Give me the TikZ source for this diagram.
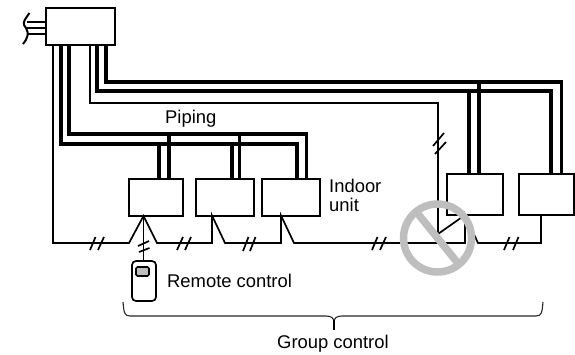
\documentclass[tikz,border=0pt]{standalone}
\usepackage{fontspec}
\setmainfont{Liberation Sans}
\definecolor{ringgray}{RGB}{190,190,190}
\tikzset{
  unitbox/.style={draw,line width=2pt,inner sep=0pt,outer sep=0pt,minimum height=37pt},
  pipe/.style={line width=3.8pt,line join=miter},
  wire/.style={line width=1.7pt,line join=miter},
  tick/.style={line width=1.7pt},
  brace/.style={line width=1.1pt,black!85},
  label/.style={anchor=base west,inner sep=0pt,font=\fontsize{18.4}{20}\selectfont}
}
\begin{document}
\begin{tikzpicture}[x=1pt,y=-1pt]
  \useasboundingbox (0,0) rectangle (575,354);

  \node[unitbox,minimum width=69pt,minimum height=37pt] (top) at (80.5,26.5){};
  \node[unitbox,minimum width=54pt] (unitA) at (156,197.5){};
  \node[unitbox,minimum width=58pt] (unitB) at (224.5,197){};
  \node[unitbox,minimum width=58pt] (unitC) at (291,197){};
  \node[unitbox,minimum width=56pt,minimum height=41pt] (unitD) at (475,194.5){};
  \node[unitbox,minimum width=55pt,minimum height=41pt] (unitE) at (546.5,194.5){};
  \node[draw,line width=1.7pt,rounded corners=4pt,minimum width=24pt,minimum height=40pt,inner sep=0pt,outer sep=0pt] (remote) at (144,281){};
  \node[draw,fill=ringgray,line width=1.7pt,rounded corners=1.5pt,minimum width=13pt,minimum height=9pt,inner sep=0pt] (screen) at (142.5,271.5){};

  \node[label] (piping) at (165,123){Piping};
  \node[label] (indoor) at (329,192){Indoor};
  \node[label] (indoorb) at (329,211){unit};
  \node[label] (remotetext) at (167,287){Remote control};
  \node[label] (group) at (277,348){Group control};

  % mains at the left of the top box
  \foreach \ypos in {22,28,34}
    \draw[wire] (top.west |- 0,\ypos) -- (27,\ypos);
  \draw[line width=2pt] (29.5,13) .. controls (22,23) and (23,24) .. (26,28) .. controls (29,33) and (28,38) .. (23,44);

  % piping, two loops
  \coordinate (pipeA) at (61,144);
  \coordinate (pipeB) at (297,144);
  \coordinate (pipeC) at (69,134);
  \coordinate (pipeD) at (306.5,134);
  \coordinate (pipeE) at (97,91);
  \coordinate (pipeF) at (551,91);
  \coordinate (pipeG) at (106,82);
  \coordinate (pipeH) at (561.5,82);
  \draw[pipe] (top.south -| pipeA) -- (pipeA) -- (pipeB) -- (unitC.north -| pipeB);
  \draw[pipe] (top.south -| pipeC) -- (pipeC) -- (pipeD) -- (unitC.north -| pipeD);
  \draw[pipe] (top.south -| pipeE) -- (pipeE) -- (pipeF) -- (unitE.north -| pipeF);
  \draw[pipe] (top.south -| pipeG) -- (pipeG) -- (pipeH) -- (unitE.north -| pipeH);

  \coordinate (branchA) at (159,144);
  \coordinate (branchB) at (169,134);
  \coordinate (branchC) at (232,144);
  \coordinate (branchD) at (239.5,134);
  \coordinate (branchE) at (469,91);
  \coordinate (branchF) at (479,82);
  \draw[pipe] (branchA) -- (unitA.north -| branchA);
  \draw[pipe] (branchB) -- (unitA.north -| branchB);
  \draw[pipe] (branchC) -- (unitB.north -| branchC);
  \draw[pipe] (branchD) -- (unitB.north -| branchD);
  \draw[pipe] (branchE) -- (unitD.north -| branchE);
  \draw[pipe] (branchF) -- (unitD.north -| branchF);

  % control wiring
  \coordinate (tapA) at (143.5,216);
  \coordinate (tapB) at (212,215.5);
  \coordinate (tapC) at (281,215.5);
  \coordinate (tapD) at (465,215);
  \coordinate (tapE) at (541,215);
  \coordinate (wrong) at (438,234);
  \coordinate (wrongtop) at (438,103);
  \coordinate (wrongleft) at (90,103);
  \coordinate (wireA) at (53,243);
  \coordinate (wireB) at (129,243);
  \coordinate (wireC) at (157,243);
  \coordinate (wireD) at (225,243);
  \coordinate (wireE) at (294,243);
  \coordinate (wireF) at (478,243);

  \draw[wire] (top.south -| wireA) -- (wireA) -- (wireB) -- (tapA) -- (wireC) -- (wireC -| tapB) -- (tapB) -- (wireD) -- (wireD -| tapC) -- (tapC) -- (wireE) -- (wireE -| tapD) -- (tapD) -- (wireF) -- (wireF -| tapE) -- (tapE);
  \draw[wire] (tapA) -- (remote.north -| tapA);
  \draw[wire] (top.south -| wrongleft) -- (wrongleft) -- (wrongtop) -- (wrong) -- (tapD);

  % crossed wire marks
  \foreach \xa/\ya/\xb/\yb in {90/250/95.5/237,98/250/104/237,177/250/183/237,185/250/191/237,243/251/248.5/237,250/251/255.5/237,372/250/377.5/237,380/250/386/237,504/250/509.5/237,513/250/518.5/237,433/146/444/133,435/154/446/142,138/246/149/241,139/252/149.5/248}
    \draw[tick] (\xa,\ya) -- (\xb,\yb);

  % group bracket
  \coordinate (braceL) at (123,302);
  \coordinate (braceR) at (543,302);
  \coordinate (braceM) at (334,330);
  \draw[brace] (braceL) .. controls (124,312) and (124,316) .. (130,316) -- (326,316) .. controls (331,316) and (334,318) .. (334,322);
  \draw[brace] (braceR) .. controls (542,312) and (542,316) .. (536,316) -- (342,316) .. controls (337,316) and (334,318) .. (334,322);
  \draw[line width=1.5pt] (334,320) -- (braceM);

  % no entry sign
  \node[circle,draw=ringgray,line width=7.5pt,minimum size=68pt,inner sep=0pt,outer sep=0pt] (noentry) at (437.5,238){};
  \draw[ringgray,line width=7.5pt] (noentry.129) -- (noentry.-51);
\end{tikzpicture}
\end{document}
